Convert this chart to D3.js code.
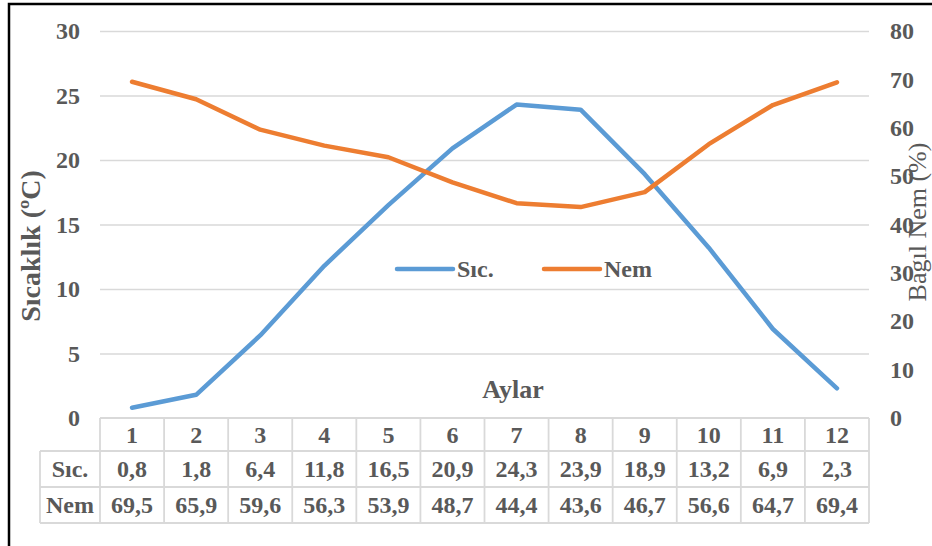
<!DOCTYPE html>
<html>
<head>
<meta charset="utf-8">
<script src="https://cdn.jsdelivr.net/npm/d3@7"></script>
<style>
  html, body { margin: 0; padding: 0; background: #fff; }
  svg { display: block; font-family: "Liberation Serif", "Times New Roman", serif; }
</style>
</head>
<body>
<svg id="chart" width="932" height="546"></svg>
<script>
// Monthly temperature (°C) and relative humidity (%)
const months = [1, 2, 3, 4, 5, 6, 7, 8, 9, 10, 11, 12];
const sicValues = [0.8, 1.8, 6.4, 11.8, 16.5, 20.9, 24.3, 23.9, 18.9, 13.2, 6.9, 2.3];
const nemValues = [69.5, 65.9, 59.6, 56.3, 53.9, 48.7, 44.4, 43.6, 46.7, 56.6, 64.7, 69.4];
const seriesNames = ["Sıc.", "Nem"];
const leftTicks = [0, 5, 10, 15, 20, 25, 30];
const rightTicks = [0, 10, 20, 30, 40, 50, 60, 70, 80];

const textColor = "#595959";
const gridColor = "#d9d9d9";
const colors = { "Sıc.": "#5b9bd5", "Nem": "#ed7d31" };

const svg = d3.select("#chart");
const plot = { left: 100, right: 869, top: 31, bottom: 418 };

const x = d3.scaleBand().domain(months).range([plot.left, plot.right]);
const yL = d3.scaleLinear().domain([0, 30]).range([plot.bottom, plot.top]);
const yR = d3.scaleLinear().domain([0, 80]).range([plot.bottom, plot.top]);
const fmt = d3.formatLocale({ decimal: ",", thousands: ".", grouping: [3], currency: ["", ""] }).format(".1f");

// Outer frame (left and top edges)
svg.append("path")
  .attr("d", "M9,546V4H932")
  .attr("fill", "none").attr("stroke", "#000").attr("stroke-width", 2.5);

// Horizontal gridlines
const grid = svg.append("g")
  .attr("transform", `translate(${plot.left},0)`)
  .call(d3.axisLeft(yL).tickValues(leftTicks.filter(t => t > 0)).tickSize(-(plot.right - plot.left)).tickFormat(""));
grid.select(".domain").remove();
grid.selectAll("line").attr("stroke", gridColor).attr("stroke-width", 1.5);

// Left axis labels
const axL = svg.append("g")
  .attr("transform", "translate(80,0)")
  .call(d3.axisLeft(yL).tickValues(leftTicks).tickSize(0).tickPadding(0));
axL.select(".domain").remove();
axL.selectAll("text")
  .attr("font-family", "Liberation Serif, Times New Roman, serif")
  .attr("font-size", 24).attr("font-weight", "bold").attr("fill", textColor);

// Right axis labels
const axR = svg.append("g")
  .attr("transform", "translate(890,0)")
  .call(d3.axisRight(yR).tickValues(rightTicks).tickSize(0).tickPadding(0));
axR.select(".domain").remove();
axR.selectAll("text")
  .attr("font-family", "Liberation Serif, Times New Roman, serif")
  .attr("font-size", 24).attr("font-weight", "bold").attr("fill", textColor);

// Axis titles
svg.append("text")
  .attr("transform", "translate(40,246) rotate(-90)")
  .attr("text-anchor", "middle")
  .attr("font-size", 28).attr("font-weight", "bold").attr("fill", textColor)
  .text("Sıcaklık (ºC)");

svg.append("text")
  .attr("transform", "translate(926,222) rotate(-90)")
  .attr("text-anchor", "middle")
  .attr("font-size", 26).attr("fill", textColor)
  .text("Bagıl Nem (%)");

svg.append("text")
  .attr("x", 513).attr("y", 398)
  .attr("text-anchor", "middle")
  .attr("font-size", 26).attr("font-weight", "bold").attr("fill", textColor)
  .text("Aylar");

// Series lines
const cx = d => x(d) + x.bandwidth() / 2;
const lineSic = d3.line().x((d, i) => cx(months[i])).y(d => yL(d));
const lineNem = d3.line().x((d, i) => cx(months[i])).y(d => yR(d));

svg.append("path")
  .datum(sicValues)
  .attr("d", lineSic)
  .attr("fill", "none").attr("stroke", colors["Sıc."]).attr("stroke-width", 4.5)
  .attr("stroke-linejoin", "round").attr("stroke-linecap", "round");

svg.append("path")
  .datum(nemValues)
  .attr("d", lineNem)
  .attr("fill", "none").attr("stroke", colors["Nem"]).attr("stroke-width", 4.5)
  .attr("stroke-linejoin", "round").attr("stroke-linecap", "round");

// Legend
const legendItems = [
  { name: seriesNames[0], x0: 397 },
  { name: seriesNames[1], x0: 544 }
];
const lg = svg.append("g").selectAll("g").data(legendItems).join("g");
lg.append("line")
  .attr("x1", d => d.x0).attr("x2", d => d.x0 + 56)
  .attr("y1", 269).attr("y2", 269)
  .attr("stroke", d => colors[d.name]).attr("stroke-width", 4.5).attr("stroke-linecap", "round");
lg.append("text")
  .attr("x", d => d.x0 + 60).attr("y", 277)
  .attr("font-size", 24).attr("font-weight", "bold").attr("fill", textColor)
  .text(d => d.name);

// Data table
const rowLabelLeft = 40;
const rows = [
  { top: 418, bottom: 451, label: null, values: months.map(String) },
  { top: 451, bottom: 487, label: seriesNames[0], values: sicValues.map(fmt) },
  { top: 487, bottom: 523, label: seriesNames[1], values: nemValues.map(fmt) }
];
const table = svg.append("g");
const tStroke = { stroke: gridColor, "stroke-width": 1.8 };

rows.forEach(r => {
  const left = r.label ? rowLabelLeft : plot.left;
  // horizontal borders
  table.append("line").attr("x1", left).attr("x2", plot.right).attr("y1", r.top).attr("y2", r.top)
    .attr("stroke", tStroke.stroke).attr("stroke-width", tStroke["stroke-width"]);
  // vertical borders
  const xs = [plot.left, ...months.map(m => x(m) + x.bandwidth())];
  if (r.label) xs.unshift(rowLabelLeft);
  table.selectAll(null).data(xs).join("line")
    .attr("x1", d => d).attr("x2", d => d).attr("y1", r.top).attr("y2", r.bottom)
    .attr("stroke", tStroke.stroke).attr("stroke-width", tStroke["stroke-width"]);
  const cy = (r.top + r.bottom) / 2;
  table.selectAll(null).data(r.values).join("text")
    .attr("x", (d, i) => cx(months[i])).attr("y", cy).attr("dy", "0.34em")
    .attr("text-anchor", "middle")
    .attr("font-size", 24).attr("font-weight", "bold").attr("fill", textColor)
    .text(d => d);
  if (r.label) {
    table.append("text")
      .attr("x", (rowLabelLeft + plot.left) / 2).attr("y", cy).attr("dy", "0.34em")
      .attr("text-anchor", "middle")
      .attr("font-size", 24).attr("font-weight", "bold").attr("fill", textColor)
      .text(r.label);
  }
});
table.append("line").attr("x1", rowLabelLeft).attr("x2", plot.right).attr("y1", 523).attr("y2", 523)
  .attr("stroke", gridColor).attr("stroke-width", 1.8);
</script>
</body>
</html>
